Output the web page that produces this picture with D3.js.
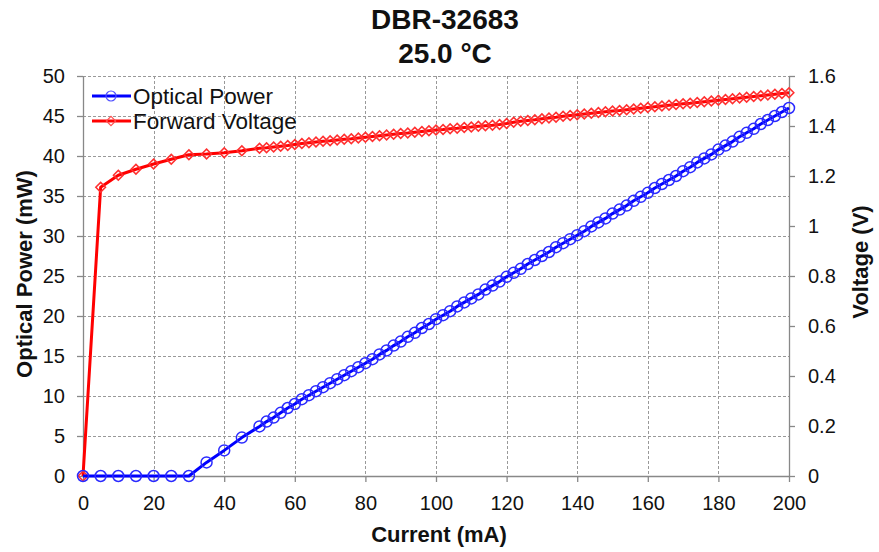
<!DOCTYPE html>
<html><head><meta charset="utf-8">
<script src="https://cdn.jsdelivr.net/npm/d3@7"></script>
<style>body{margin:0;background:#fff;} text{font-family:"Liberation Sans",Arial,sans-serif;}</style>
</head><body><svg id="c" width="879" height="552"></svg>
<script>
const current = [0,5,10,15,20,25,30,35,40,45,50,
 52,54,56,58,60,62,64,66,68,70,72,74,76,78,80,82,84,86,88,90,92,94,96,98,100,
 102,104,106,108,110,112,114,116,118,120,122,124,126,128,130,132,134,136,138,140,
 142,144,146,148,150,152,154,156,158,160,162,164,166,168,170,172,174,176,178,180,
 182,184,186,188,190,192,194,196,198,200];
const opticalPower = [0,0,0,0,0,0,0,1.7,3.2,4.8,6.2,
 6.8,7.3,7.9,8.5,9.0,9.6,10.1,10.6,11.1,11.6,12.1,12.6,13.1,13.6,14.1,14.6,15.2,15.7,16.3,16.8,17.4,17.9,18.5,19.0,19.6,
 20.1,20.6,21.2,21.7,22.2,22.7,23.3,23.8,24.3,24.9,25.4,25.9,26.5,27.0,27.5,28.0,28.6,29.1,29.6,30.1,
 30.6,31.2,31.7,32.2,32.8,33.3,33.8,34.4,34.9,35.4,36.0,36.5,37.0,37.5,38.1,38.6,39.2,39.7,40.2,40.8,
 41.3,41.8,42.4,42.9,43.4,44.0,44.5,45.0,45.5,46.0];
const forwardVoltage = [0,1.155,1.203,1.227,1.248,1.267,1.285,1.288,1.293,1.301,1.311,
 1.313,1.316,1.319,1.322,1.326,1.330,1.333,1.336,1.339,1.341,1.344,1.347,1.349,1.352,1.355,1.358,1.361,1.364,1.367,1.370,1.372,1.375,1.378,1.381,1.384,
 1.386,1.389,1.391,1.394,1.396,1.399,1.401,1.403,1.406,1.410,1.415,1.419,1.422,1.425,1.429,1.432,1.435,1.439,1.442,1.445,
 1.448,1.451,1.454,1.457,1.460,1.462,1.465,1.468,1.471,1.474,1.477,1.480,1.483,1.486,1.489,1.491,1.494,1.497,1.500,1.503,
 1.506,1.509,1.512,1.515,1.518,1.521,1.524,1.527,1.530,1.533];
const xTicks = [0,20,40,60,80,100,120,140,160,180,200];
const yLeftTicks = [0,5,10,15,20,25,30,35,40,45,50];
const yRightTicks = [0,0.2,0.4,0.6,0.8,1,1.2,1.4,1.6];
const titleLines = ["DBR-32683","25.0 °C"];

const svg = d3.select("#c");
const L=83,R=789,T=76,B=476;
const x = d3.scaleLinear().domain([0,200]).range([L,R]);
const yL = d3.scaleLinear().domain([0,50]).range([B,T]);
const yR = d3.scaleLinear().domain([0,1.6]).range([B,T]);

// grid
const g = svg.append("g");
g.selectAll(".vg").data(xTicks.slice(1)).enter().append("line")
 .attr("x1",d=>Math.round(x(d))+0.5).attr("x2",d=>Math.round(x(d))+0.5).attr("y1",T).attr("y2",B)
 .attr("stroke","#999").attr("stroke-dasharray","3,2").attr("stroke-width",1);
g.selectAll(".hg").data(yLeftTicks.slice(1)).enter().append("line")
 .attr("x1",L).attr("x2",R).attr("y1",d=>Math.round(yL(d))+0.5).attr("y2",d=>Math.round(yL(d))+0.5)
 .attr("stroke","#999").attr("stroke-dasharray","3,2").attr("stroke-width",1);

function styleAxis(sel){
  sel.selectAll("path").attr("stroke","#888").attr("stroke-width",1.3);
  sel.selectAll("line").attr("stroke","#888").attr("stroke-width",1.3);
  sel.selectAll("text").attr("font-size","20px").attr("fill","#111").attr("font-family","'Liberation Sans',Arial,sans-serif");
}
const ax = svg.append("g").attr("transform",`translate(0,${B})`)
 .call(d3.axisBottom(x).tickValues(xTicks).tickSize(6).tickSizeOuter(0).tickPadding(14).tickFormat(d3.format("d")));
styleAxis(ax);
const al = svg.append("g").attr("transform",`translate(${L},0)`)
 .call(d3.axisLeft(yL).tickValues(yLeftTicks).tickSize(6).tickSizeOuter(0).tickPadding(12).tickFormat(d3.format("d")));
styleAxis(al);
const ar = svg.append("g").attr("transform",`translate(${R},0)`)
 .call(d3.axisRight(yR).tickValues(yRightTicks).tickSize(6).tickSizeOuter(0).tickPadding(13).tickFormat(d=>d3.format("")(+d.toFixed(1))));
styleAxis(ar);

// data
const pts = current.map((c,i)=>({c, p:opticalPower[i], v:forwardVoltage[i]}));
const lineP = d3.line().x(d=>x(d.c)).y(d=>yL(d.p));
const lineV = d3.line().x(d=>x(d.c)).y(d=>yR(d.v));
svg.append("path").datum(pts).attr("d",lineV).attr("fill","none").attr("stroke","#ff0000").attr("stroke-width",3).attr("stroke-linejoin","round");
svg.selectAll(".vm").data(pts).enter().append("path")
 .attr("d",d3.symbol().type(d3.symbolDiamond2).size(60))
 .attr("transform",d=>`translate(${x(d.c)},${yR(d.v)})`)
 .attr("fill","none").attr("stroke","#ff3030").attr("stroke-width",1.5);
svg.append("path").datum(pts).attr("d",lineP).attr("fill","none").attr("stroke","#0000ff").attr("stroke-width",3).attr("stroke-linejoin","round");
svg.selectAll(".pm").data(pts).enter().append("circle")
 .attr("cx",d=>x(d.c)).attr("cy",d=>yL(d.p)).attr("r",5.5)
 .attr("fill","none").attr("stroke","#2a2aff").attr("stroke-width",1.5);

// legend
const leg = svg.append("g");
const items=[{t:"Optical Power",c:"#0000ff",m:"circle",y:96},{t:"Forward Voltage",c:"#ff0000",m:"diamond",y:121}];
items.forEach(it=>{
  leg.append("line").attr("x1",92).attr("x2",131).attr("y1",it.y).attr("y2",it.y).attr("stroke",it.c).attr("stroke-width",3);
  if(it.m==="circle") leg.append("circle").attr("cx",111).attr("cy",it.y).attr("r",5).attr("fill","none").attr("stroke","#5050ff").attr("stroke-width",1.2);
  else leg.append("path").attr("d",d3.symbol().type(d3.symbolDiamond2).size(55)).attr("transform",`translate(111,${it.y})`).attr("fill","none").attr("stroke","#ff5050").attr("stroke-width",1.2);
  leg.append("text").attr("x",133).attr("y",it.y+8).attr("font-size","22.5px").attr("fill","#111").text(it.t);
});

// titles
svg.append("text").attr("x",445).attr("y",29).attr("text-anchor","middle").attr("font-size","28px").attr("font-weight","bold").attr("fill","#111").text(titleLines[0]);
svg.append("text").attr("x",445).attr("y",63).attr("text-anchor","middle").attr("font-size","28px").attr("font-weight","bold").attr("fill","#111").text(titleLines[1]);
svg.append("text").attr("x",439).attr("y",542).attr("text-anchor","middle").attr("font-size","22px").attr("font-weight","bold").attr("fill","#111").text("Current (mA)");
svg.append("text").attr("transform","translate(32,274) rotate(-90)").attr("text-anchor","middle").attr("font-size","22px").attr("font-weight","bold").attr("fill","#111").text("Optical Power (mW)");
svg.append("text").attr("transform","translate(868,262) rotate(-90)").attr("text-anchor","middle").attr("font-size","22px").attr("font-weight","bold").attr("fill","#111").text("Voltage (V)");
</script></body></html>
